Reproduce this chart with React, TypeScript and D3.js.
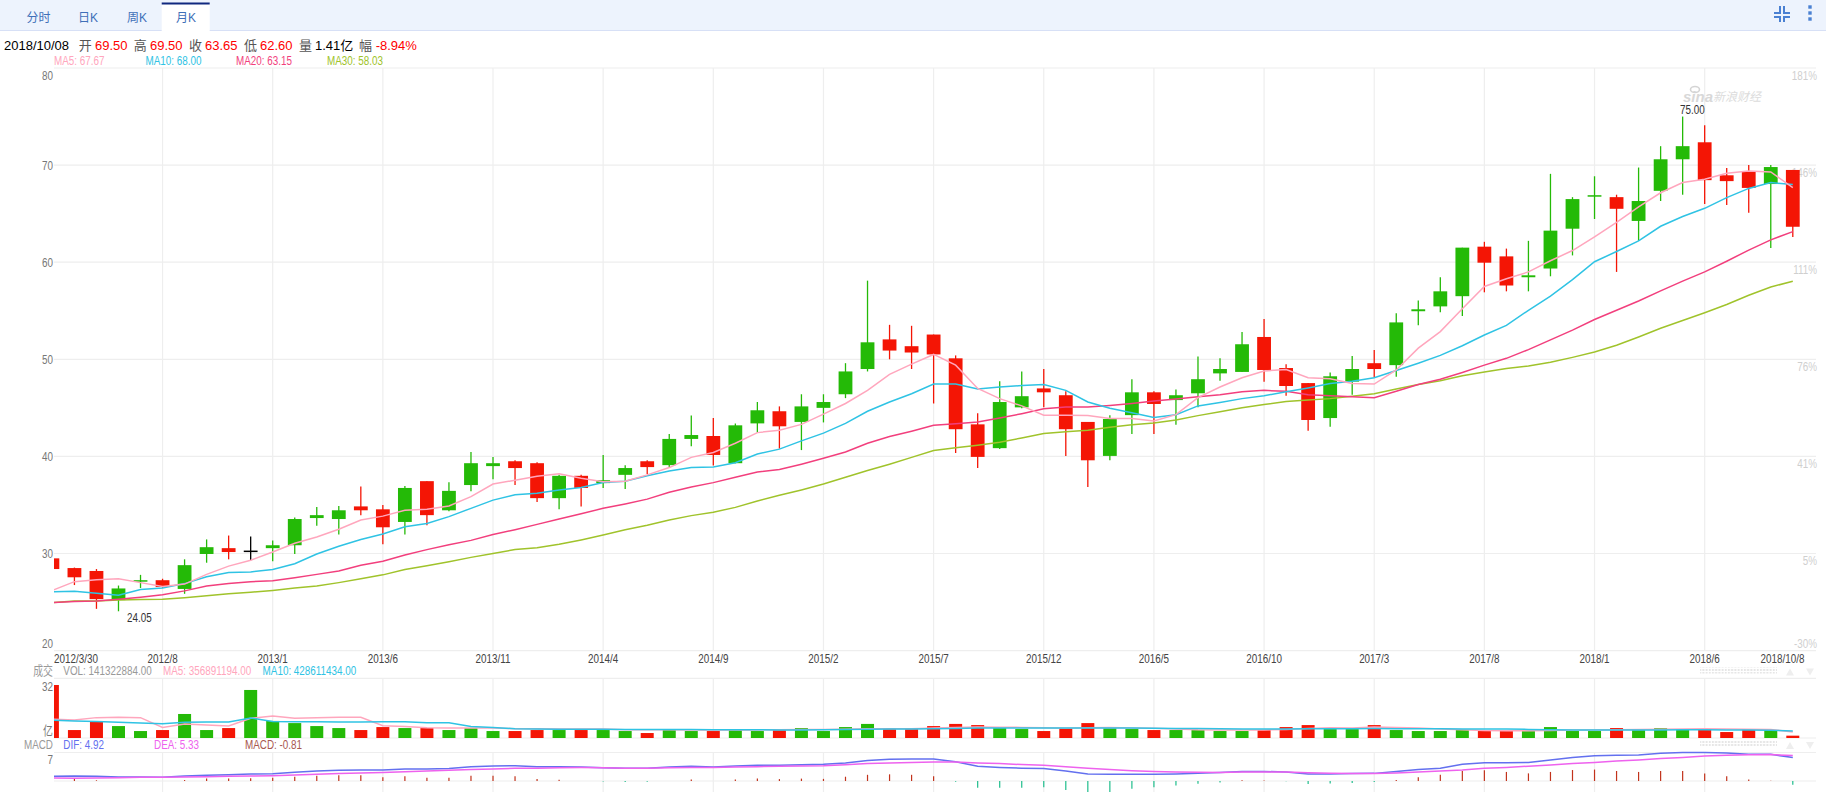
import * as d3 from "d3";
import { useEffect, useRef } from "react";

// monthly candles, 2012/3/30 to 2018/10/8
const opens = [
  29.5, 28.5, 28.2, 25.2, 27.1, 27.25, 26.35, 29.95, 30.55, 30.3,
  30.55, 30.85, 33.65, 33.55, 34.85, 34.55, 33.25, 37.45, 34.45, 37.05,
  39, 39.5, 39.3, 35.7, 38, 37.25, 38.1, 39.5, 39.1, 41.8,
  42.1, 39.3, 43.4, 44.65, 43.55, 45, 46.4, 49, 52.05, 51.35,
  52.55, 50.1, 43.3, 40.85, 45.05, 47, 46.3, 43.55, 40.05, 44.25,
  46.6, 45.8, 46.5, 48.55, 48.7, 52.3, 49.1, 47.55, 43.95, 47.7,
  49.6, 49.4, 54.95, 55.45, 56.5, 61.6, 60.6, 58.45, 59.35, 63.45,
  66.8, 66.7, 64.25, 67.35, 70.6, 72.35, 68.95, 69.3, 68.05, 69.5,
];
const closes = [
  28.4, 27.55, 25.3, 26.4, 27.25, 26.55, 28.8, 30.65, 30.15, 30.3,
  30.85, 33.55, 33.95, 34.45, 34.45, 32.7, 36.75, 33.95, 36.45, 39.3,
  39.3, 38.8, 35.7, 38, 36.75, 37.55, 38.8, 38.9, 41.8, 42.2,
  40.15, 43.2, 44.75, 43.1, 45.15, 45.6, 48.75, 51.75, 50.9, 50.7,
  50.5, 42.8, 39.95, 45.6, 46.2, 46.6, 42.8, 39.6, 43.85, 46.6,
  45.4, 46.3, 47.95, 49, 51.55, 48.9, 47.25, 43.75, 48.25, 49,
  49, 53.8, 55.15, 57, 61.5, 59.95, 57.6, 58.65, 63.25, 66.5,
  66.9, 65.5, 66.3, 70.6, 71.95, 68.45, 68.35, 67.65, 69.8, 63.65,
];
const highs = [
  29.5, 28.55, 28.4, 26.7, 27.8, 27.4, 29.4, 31.45, 31.85, 31.75,
  31.35, 33.7, 34.8, 34.9, 36.9, 35, 36.95, 37.45, 37.35, 40.45,
  39.95, 39.6, 39.4, 38.1, 38.1, 40.15, 39.1, 39.6, 42.3, 44.2,
  43.95, 43.4, 45.6, 45.15, 46.4, 46.4, 49.6, 58.1, 53.55, 53.45,
  52.55, 50.4, 44.45, 47.75, 48.75, 49, 46.7, 43.55, 44.25, 47.95,
  46.7, 46.9, 50.3, 50.1, 52.8, 54.15, 49.5, 47.55, 48.65, 50.35,
  50.95, 54.75, 56.05, 58.45, 61.5, 62.1, 61.4, 62.2, 69.1, 66.7,
  68.85, 66.95, 69.75, 71.95, 75, 74.1, 69.7, 70, 70, 69.5,
];
const lows = [
  28.4, 26.75, 24.3, 24.05, 26.45, 26.45, 25.85, 29.05, 29.4, 29.3,
  29.2, 29.95, 32.85, 31.95, 33.95, 30.95, 31.95, 32.9, 34.35, 36.4,
  37.65, 37.05, 35.3, 34.55, 34.85, 36.75, 36.65, 38.2, 38.85, 41.05,
  39.05, 39.3, 42.45, 40.8, 40.65, 43.5, 46, 48.75, 50, 49,
  45.45, 40.35, 38.8, 40.75, 44.95, 45.05, 40.05, 36.85, 39.6, 42.3,
  42.3, 43.25, 45.05, 47.8, 48.7, 47.7, 46.25, 42.65, 43.05, 46.35,
  48.1, 48.2, 53.5, 54.85, 54.45, 56.9, 57, 57, 58.55, 60.7,
  64.45, 59, 62.2, 66.3, 66.95, 66, 65.9, 65.1, 61.45, 62.6,
];

const ma5 = [
  26.2, 27.1, 27.3, 27.4, 27, 26.6, 26.85, 27.85, 28.7, 29.3,
  30.15, 31.05, 31.7, 32.5, 33.45, 33.85, 34.45, 34.55, 34.9, 35.85,
  37.15, 37.55, 37.95, 38.2, 37.75, 37.4, 37.45, 38.1, 38.85, 39.9,
  40.4, 41.35, 42.45, 42.7, 43.3, 44.35, 45.45, 46.8, 48.45, 49.5,
  50.5, 49.4, 47, 45.95, 45.2, 44.25, 44.25, 44.2, 43.9, 43.9,
  43.65, 44.3, 46.05, 47.15, 48.1, 48.8, 48.95, 48.1, 48, 47.5,
  47.45, 48.9, 51.15, 52.85, 55.2, 57.5, 58.3, 59, 60.15, 61.2,
  62.6, 64.1, 65.7, 67.15, 68.2, 68.55, 69.15, 69.4, 69.3, 67.67,
];
const ma10 = [
  26.05, 26.1, 25.9, 25.7, 26.3, 26.45, 26.9, 27.6, 28.05, 28.1,
  28.35, 28.95, 29.95, 30.75, 31.45, 32, 32.75, 33.1, 33.8, 34.65,
  35.5, 36.05, 36.2, 36.55, 36.8, 37.3, 37.45, 38, 38.5, 38.85,
  38.9, 39.35, 40.25, 40.75, 41.6, 42.4, 43.4, 44.65, 45.6, 46.45,
  47.45, 47.45, 46.95, 47.15, 47.3, 47.4, 46.8, 45.6, 44.95, 44.5,
  44, 44.3, 45.2, 45.55, 45.95, 46.25, 46.65, 47.05, 47.5, 47.75,
  48.1, 48.85, 49.6, 50.4, 51.4, 52.5, 53.5, 55.05, 56.5, 58.2,
  60.05, 61.1, 62.2, 63.7, 64.7, 65.55, 66.65, 67.6, 68.2, 68,
];
const ma20 = [
  24.95, 25.05, 25.1, 25.3, 25.5, 25.75, 26.15, 26.65, 26.9, 27.1,
  27.2, 27.5, 27.85, 28.2, 28.8, 29.2, 29.85, 30.4, 30.9, 31.35,
  31.95, 32.45, 33, 33.55, 34.1, 34.65, 35.1, 35.6, 36.3, 36.85,
  37.3, 37.85, 38.4, 38.65, 39.2, 39.8, 40.45, 41.35, 42.05, 42.6,
  43.2, 43.35, 43.55, 43.95, 44.4, 44.9, 45.1, 45.1, 45.25, 45.45,
  45.7, 45.9, 46.15, 46.35, 46.65, 46.8, 46.7, 46.35, 46.25, 46.15,
  46.05, 46.7, 47.4, 47.95, 48.65, 49.4, 50.1, 51, 52, 53,
  54.1, 55.05, 56, 57.05, 58.05, 59, 60.1, 61.25, 62.3, 63.15,
];
const ma30 = [
  24.95, 25.1, 25.1, 25.2, 25.25, 25.3, 25.45, 25.65, 25.85, 26,
  26.2, 26.45, 26.65, 27, 27.4, 27.8, 28.35, 28.75, 29.15, 29.6,
  30, 30.4, 30.6, 30.95, 31.4, 31.9, 32.45, 32.9, 33.45, 33.9,
  34.25, 34.75, 35.4, 36, 36.55, 37.15, 37.85, 38.55, 39.2, 39.9,
  40.6, 40.9, 41.15, 41.45, 41.9, 42.35, 42.55, 42.7, 43, 43.25,
  43.45, 43.75, 44.2, 44.6, 45, 45.35, 45.65, 45.8, 45.95, 46.2,
  46.45, 46.95, 47.4, 47.8, 48.3, 48.7, 49.05, 49.3, 49.7, 50.2,
  50.75, 51.45, 52.3, 53.2, 54, 54.8, 55.65, 56.6, 57.45, 58.03,
];

// volume in 亿
const volumes = [
  32, 4.8, 9.9, 7.2, 4.2, 4.8, 14.5, 4.8, 6, 29,
  10.3, 9, 7.2, 6, 4.8, 6.6, 6, 6, 4.8, 6,
  4.2, 4.2, 4.8, 4.8, 4.8, 4.8, 4.2, 3, 4.8, 4.2,
  4.2, 4.8, 4.2, 4.8, 6, 4.2, 6.6, 8.5, 5.4, 5.4,
  7.2, 8.5, 7.8, 6, 5.4, 4.2, 6, 9, 6, 5.4,
  4.8, 4.8, 4.8, 4.2, 4.2, 4.8, 6.6, 7.8, 5.4, 5.4,
  7.8, 4.8, 4.2, 4.2, 4.8, 4.2, 4.2, 4.2, 6.6, 4.2,
  4.2, 6, 4.8, 6, 5.4, 5.4, 3.6, 5.4, 4.8, 1.41,
];
const volMa5 = [
  11.3, 10.9, 12.3, 12.5, 12.3, 6.4, 8.5, 7.8, 7.2, 11.9,
  13.3, 11.9, 12.3, 12.5, 12.5, 7.4, 7, 6.2, 6, 6,
  6, 5.6, 5.6, 5.4, 5.4, 5.4, 5, 5, 5, 4.9,
  4.9, 4.9, 4.9, 5, 5.1, 5.1, 5.3, 5.6, 5.6, 5.6,
  6, 6.4, 6.6, 6.5, 6.4, 6.2, 5.9, 6.2, 6.3, 6.1,
  5.9, 5.4, 5, 4.9, 4.8, 4.9, 5.2, 5.7, 6.2, 6.1,
  6.6, 6.4, 6, 5.5, 5, 4.5, 4.4, 4.4, 4.6, 4.8,
  4.9, 5, 5.2, 5.3, 5.5, 5.6, 5.4, 5.3, 5.2, 3.57,
];
const volMa10 = [
  10.7, 10.3, 9.9, 9.5, 9.05, 8.65, 9.5, 9.65, 9.65, 12.1,
  10, 9.85, 9.85, 9.65, 9.65, 9.85, 9.85, 9.25, 9.25, 7,
  6.4, 5.6, 5.4, 5.3, 5.3, 5.3, 5.2, 5.2, 5.1, 5.1,
  5, 5, 5, 4.9, 4.9, 5, 5.1, 5.3, 5.4, 5.5,
  5.6, 5.8, 6, 6.1, 6.1, 6.1, 6.1, 6.1, 6, 6,
  5.9, 5.8, 5.7, 5.6, 5.5, 5.5, 5.5, 5.6, 5.6, 5.6,
  5.7, 5.6, 5.6, 5.6, 5.5, 5.4, 5.4, 5.2, 5, 4.9,
  4.9, 4.9, 4.9, 4.9, 5, 5, 4.9, 4.8, 4.7, 4.29,
];

const dif = [
  0.98, 1.05, 0.98, 0.84, 0.84, 0.8, 1.05, 1.2, 1.33, 1.47,
  1.54, 1.82, 2.1, 2.24, 2.3, 2.3, 2.5, 2.5, 2.6, 3,
  3.15, 3.2, 3, 3, 2.95, 2.8, 2.7, 2.7, 2.95, 3.1,
  2.95, 3.15, 3.3, 3.3, 3.4, 3.5, 3.8, 4.3, 4.55, 4.6,
  4.6, 4.05, 3.1, 2.85, 2.7, 2.6, 2.1, 1.45, 1.4, 1.4,
  1.4, 1.45, 1.6, 1.8, 2, 2, 1.9, 1.45, 1.45, 1.55,
  1.6, 2, 2.4, 2.7, 3.5, 3.85, 3.85, 3.9, 4.4, 4.95,
  5.3, 5.4, 5.45, 5.8, 6, 6, 5.9, 5.6, 5.6, 4.92,
];
const dea = [
  0.63, 0.56, 0.63, 0.7, 0.77, 0.77, 0.84, 0.9, 1, 1.05,
  1.12, 1.26, 1.4, 1.55, 1.68, 1.8, 1.96, 2.1, 2.24, 2.4,
  2.5, 2.65, 2.7, 2.8, 2.85, 2.8, 2.7, 2.7, 2.8, 2.85,
  2.85, 2.95, 3, 3.1, 3.15, 3.2, 3.4, 3.65, 3.8, 3.9,
  4, 4, 3.8, 3.65, 3.45, 3.3, 3, 2.65, 2.4, 2.15,
  2, 1.9, 1.85, 1.8, 1.9, 1.9, 1.9, 1.75, 1.6, 1.55,
  1.55, 1.7, 1.9, 2.1, 2.3, 2.65, 2.85, 3.1, 3.35, 3.65,
  3.9, 4.2, 4.4, 4.7, 4.95, 5.25, 5.4, 5.5, 5.55, 5.33,
];
const macdBars = [
  0, 0.5, 0.15, 0, 0, 0, 0.2, 0.5, 0.55, 0.6,
  0.7, 0.9, 1.1, 1.2, 1.2, 0.8, 1, 0.7, 0.7, 1.1,
  1.1, 1, 0.4, 0.25, 0, -0.1, -0.2, -0.15, 0, 0.3,
  0, 0.3, 0.5, 0.4, 0.5, 0.45, 0.9, 1.3, 1.4, 1.3,
  1, -0.15, -1.4, -1.4, -1.4, -1.3, -1.9, -2.3, -2.3, -1.6,
  -1.3, -0.95, -0.6, -0.3, 0.15, 0.1, -0.05, -0.65, -0.55, -0.4,
  -0.2, 0.2, 0.8, 1.3, 2.1, 2.25, 1.9, 1.6, 1.9, 2.3,
  2.4, 2.1, 1.9, 2.1, 2.1, 1.55, 1, 0.3, 0.05, -0.81,
];

const dateLabels = [
  "2012/3/30", "2012/8", "2013/1", "2013/6", "2013/11", "2014/4", "2014/9", "2015/2",
  "2015/7", "2015/12", "2016/5", "2016/10", "2017/3", "2017/8", "2018/1", "2018/6", "2018/10/8",
];
const dateIndex = [0, 5, 10, 15, 20, 25, 30, 35, 40, 45, 50, 55, 60, 65, 70, 75, 79];
const priceTicks = [80, 70, 60, 50, 40, 30, 20];
const pctTicks = ["181%", "146%", "111%", "76%", "41%", "5%", "-30%"];
const tabs = ["分时", "日K", "周K", "月K"];
const quoteRow = [
  { x: 78.7, text: "开", fill: "#555" },
  { x: 95, text: "69.50", fill: "#f00" },
  { x: 133.7, text: "高", fill: "#555" },
  { x: 150, text: "69.50", fill: "#f00" },
  { x: 189, text: "收", fill: "#555" },
  { x: 205, text: "63.65", fill: "#f00" },
  { x: 244, text: "低", fill: "#555" },
  { x: 260, text: "62.60", fill: "#f00" },
  { x: 299, text: "量", fill: "#555" },
  { x: 315, text: "1.41亿", fill: "#000" },
  { x: 359, text: "幅", fill: "#555" },
  { x: 375.7, text: "-8.94%", fill: "#f00" },
];

const RED = "#f41505";
const GREEN = "#24ba07";
const GRID = "#eeeeee";
const PINK = "#ffa6bd";
const BLUE = "#2fc3e4";
const ROSE = "#f23f7d";
const OLIVE = "#a0c32b";
const FONT = "'Liberation Sans','Noto Sans CJK SC',sans-serif";

export default function App() {
  const svgRef = useRef<SVGSVGElement | null>(null);

  useEffect(() => {
    if (!svgRef.current) return;
    const svg = d3.select(svgRef.current);
    svg.selectAll("*").remove();

    const width = 1826;
    const height = 792;
    const left = 54;
    const right = 1816;

    const x = d3.scaleLinear().domain([0, 79]).range([52.4, 1792.8]);
    const y = d3.scaleLinear().domain([20, 80]).range([650.6, 68]);
    const yVol = d3.scaleLinear().domain([0, 32]).range([738, 685]);
    const yMacd = d3.scaleLinear().domain([0, 6]).range([781, 752.4]);

    const defs = svg.append("defs");
    defs
      .append("clipPath")
      .attr("id", "plot")
      .append("rect")
      .attr("x", left)
      .attr("y", 0)
      .attr("width", right - left)
      .attr("height", height);
    const dots = defs
      .append("pattern")
      .attr("id", "dots")
      .attr("width", 3.2)
      .attr("height", 3)
      .attr("patternUnits", "userSpaceOnUse");
    dots.append("rect").attr("width", 2).attr("height", 2).attr("fill", "#e6e6e6");

    // chart text is squeezed horizontally in the original
    const label = (px: number, py: number, text: string, fill: string, anchor = "start") =>
      svg
        .append("text")
        .attr("transform", `translate(${px},${py}) scale(0.76,1)`)
        .attr("dy", "0.35em")
        .attr("text-anchor", anchor)
        .attr("font-family", FONT)
        .attr("font-size", 13)
        .attr("fill", fill)
        .text(text);

    // Tab bar
    svg.append("rect").attr("width", width).attr("height", 30.5).attr("fill", "#edf3fd");
    svg.append("line").attr("x1", 0).attr("x2", width).attr("y1", 30.5).attr("y2", 30.5).attr("stroke", "#d7e0f6");
    svg.append("rect").attr("x", 161.7).attr("y", 3).attr("width", 48).attr("height", 28.5).attr("fill", "#fff");
    svg.append("rect").attr("x", 161.7).attr("y", 2.5).attr("width", 48).attr("height", 2).attr("fill", "#10287f");
    const tabX = [38.5, 88, 137, 186];
    tabs.forEach((t, i) => {
      svg
        .append("text")
        .attr("x", tabX[i])
        .attr("y", 21.5)
        .attr("text-anchor", "middle")
        .attr("font-family", FONT)
        .attr("font-size", 12)
        .attr("fill", "#3f6fb8")
        .text(t);
    });

    // Top right icons
    const icon = svg.append("g").attr("fill", "none").attr("stroke", "#4a80d2").attr("stroke-width", 2);
    icon.append("path").attr("d", "M1774 13H1780V6");
    icon.append("path").attr("d", "M1790 13H1784V6");
    icon.append("path").attr("d", "M1774 17H1780V22");
    icon.append("path").attr("d", "M1790 17H1784V22");
    [7, 13, 19].forEach((cy) => {
      svg.append("rect").attr("x", 1808.3).attr("y", cy - 1.7).attr("width", 3.4).attr("height", 3.4).attr("fill", "#4a80d2");
    });

    // Quote row
    svg
      .append("text")
      .attr("x", 4)
      .attr("y", 50.2)
      .attr("font-family", FONT)
      .attr("font-size", 13)
      .attr("fill", "#000")
      .text("2018/10/08");
    quoteRow.forEach((d) => {
      svg
        .append("text")
        .attr("x", d.x)
        .attr("y", 50.2)
        .attr("font-family", FONT)
        .attr("font-size", 13)
        .attr("fill", d.fill)
        .text(d.text);
    });
    label(54, 60.5, "MA5: 67.67", PINK);
    label(145.5, 60.5, "MA10: 68.00", BLUE);
    label(236, 60.5, "MA20: 63.15", ROSE);
    label(327, 60.5, "MA30: 58.03", OLIVE);

    // Grid
    const grid = svg.append("g").attr("stroke", GRID).attr("stroke-width", 1.2);
    priceTicks.forEach((t) => {
      grid.append("line").attr("x1", left).attr("x2", right).attr("y1", y(t)).attr("y2", y(t));
    });
    [678.3, 738, 752.5, 781].forEach((gy) => {
      grid.append("line").attr("x1", left).attr("x2", right).attr("y1", gy).attr("y2", gy);
    });
    dateIndex.slice(1, -1).forEach((i) => {
      grid.append("line").attr("x1", x(i)).attr("x2", x(i)).attr("y1", y(80)).attr("y2", y(20));
      grid.append("line").attr("x1", x(i)).attr("x2", x(i)).attr("y1", 678.3).attr("y2", 738);
      grid.append("line").attr("x1", x(i)).attr("x2", x(i)).attr("y1", 752.5).attr("y2", height);
    });

    // Watermark
    svg
      .append("ellipse")
      .attr("cx", 1695)
      .attr("cy", 89.5)
      .attr("rx", 4.5)
      .attr("ry", 3)
      .attr("fill", "none")
      .attr("stroke", "#d4d4d4")
      .attr("stroke-width", 1.6);
    svg
      .append("text")
      .attr("x", 1683)
      .attr("y", 102)
      .attr("font-family", FONT)
      .attr("font-size", 15)
      .attr("font-weight", "bold")
      .attr("font-style", "italic")
      .attr("fill", "#d8d8d8")
      .text("sina");
    svg
      .append("text")
      .attr("x", 1713)
      .attr("y", 101)
      .attr("font-family", FONT)
      .attr("font-size", 12)
      .attr("font-style", "italic")
      .attr("fill", "#dcdcdc")
      .text("新浪财经");

    // Axis labels
    priceTicks.forEach((t, i) => {
      const py = i === 0 ? y(t) + 7 : i === priceTicks.length - 1 ? y(t) - 7 : y(t);
      label(53, py, String(t), "#777", "end");
      const pctY = i === priceTicks.length - 1 ? y(t) - 7 : y(t) + 7;
      label(1817, pctY, pctTicks[i], "#cfcfcf", "end");
    });
    dateLabels.forEach((t, i) => {
      if (i === 0) label(54, 658, t, "#444");
      else if (i === dateLabels.length - 1) label(1804.5, 658, t, "#444", "end");
      else label(x(dateIndex[i]), 658, t, "#444", "middle");
    });

    // Candles
    const plot = svg.append("g").attr("clip-path", "url(#plot)");
    const candleW = 13.8;
    opens.forEach((o, i) => {
      const c = closes[i];
      const color = c > o ? GREEN : c < o ? RED : "#000";
      plot
        .append("line")
        .attr("x1", x(i))
        .attr("x2", x(i))
        .attr("y1", y(highs[i]))
        .attr("y2", y(lows[i]))
        .attr("stroke", color)
        .attr("stroke-width", 1.3);
      const top = y(Math.max(o, c));
      const h = Math.max(y(Math.min(o, c)) - top, 1.5);
      plot
        .append("rect")
        .attr("x", x(i) - candleW / 2)
        .attr("y", top)
        .attr("width", candleW)
        .attr("height", h)
        .attr("fill", color);
    });

    // Moving averages
    const priceLine = d3
      .line<number>()
      .x((_, i) => x(i))
      .y((d) => y(d));
    const series: [number[], string][] = [
      [ma30, OLIVE],
      [ma20, ROSE],
      [ma10, BLUE],
      [ma5, PINK],
    ];
    series.forEach(([values, color]) => {
      plot
        .append("path")
        .attr("d", priceLine(values))
        .attr("fill", "none")
        .attr("stroke", color)
        .attr("stroke-width", 1.5);
    });

    label(53, 670, "成交", "#999", "end");
    label(63.3, 670, "VOL: 141322884.00", "#999");
    label(163, 670, "MA5: 356891194.00", PINK);
    label(262.6, 670, "MA10: 428611434.00", BLUE);

    // Scroll handles
    [667.5, 741].forEach((sy) => {
      svg.append("rect").attr("x", 1700).attr("y", sy).attr("width", 77).attr("height", 6).attr("fill", "url(#dots)");
      svg.append("path").attr("d", `M1786 ${sy + 8}L1790 ${sy + 1}L1794 ${sy + 8}Z`).attr("fill", "#eee");
      svg.append("path").attr("d", `M1806 ${sy + 1}L1814 ${sy + 1}L1810 ${sy + 8}Z`).attr("fill", "#eee");
    });

    // Volume
    const volW = 13;
    volumes.forEach((v, i) => {
      plot
        .append("rect")
        .attr("x", x(i) - volW / 2)
        .attr("y", yVol(v))
        .attr("width", volW)
        .attr("height", yVol(0) - yVol(v))
        .attr("fill", closes[i] < opens[i] ? RED : GREEN);
    });
    const volLine = d3
      .line<number>()
      .x((_, i) => x(i))
      .y((d) => yVol(d));
    plot.append("path").attr("d", volLine(volMa5)).attr("fill", "none").attr("stroke", PINK).attr("stroke-width", 1.5);
    plot.append("path").attr("d", volLine(volMa10)).attr("fill", "none").attr("stroke", BLUE).attr("stroke-width", 1.5);
    label(53, 686, "32", "#777", "end");
    label(53, 730, "亿", "#777", "end");

    // MACD
    label(53, 744, "MACD", "#999", "end");
    label(63.3, 744, "DIF: 4.92", "#6370ef");
    label(154, 744, "DEA: 5.33", "#ee62ee");
    label(245, 744, "MACD: -0.81", "#a8574f");
    label(53, 759, "7", "#777", "end");
    macdBars.forEach((v, i) => {
      plot
        .append("line")
        .attr("x1", x(i))
        .attr("x2", x(i))
        .attr("y1", yMacd(0))
        .attr("y2", yMacd(v))
        .attr("stroke", v >= 0 ? "#c2331c" : "#1fbd8c")
        .attr("stroke-width", 1.2);
    });
    const macdLine = d3
      .line<number>()
      .x((_, i) => x(i))
      .y((d) => yMacd(d));
    plot.append("path").attr("d", macdLine(dif)).attr("fill", "none").attr("stroke", "#6370ef").attr("stroke-width", 1.5);
    plot.append("path").attr("d", macdLine(dea)).attr("fill", "none").attr("stroke", "#ee62ee").attr("stroke-width", 1.5);

    // High / low markers
    label(127, 617, "24.05", "#333");
    label(1680, 109, "75.00", "#333");
  }, []);

  return (
    <svg
      ref={svgRef}
      width={1826}
      height={792}
      style={{ position: "absolute", left: 0, top: 0, display: "block", background: "#fff" }}
    ></svg>
  );
}
